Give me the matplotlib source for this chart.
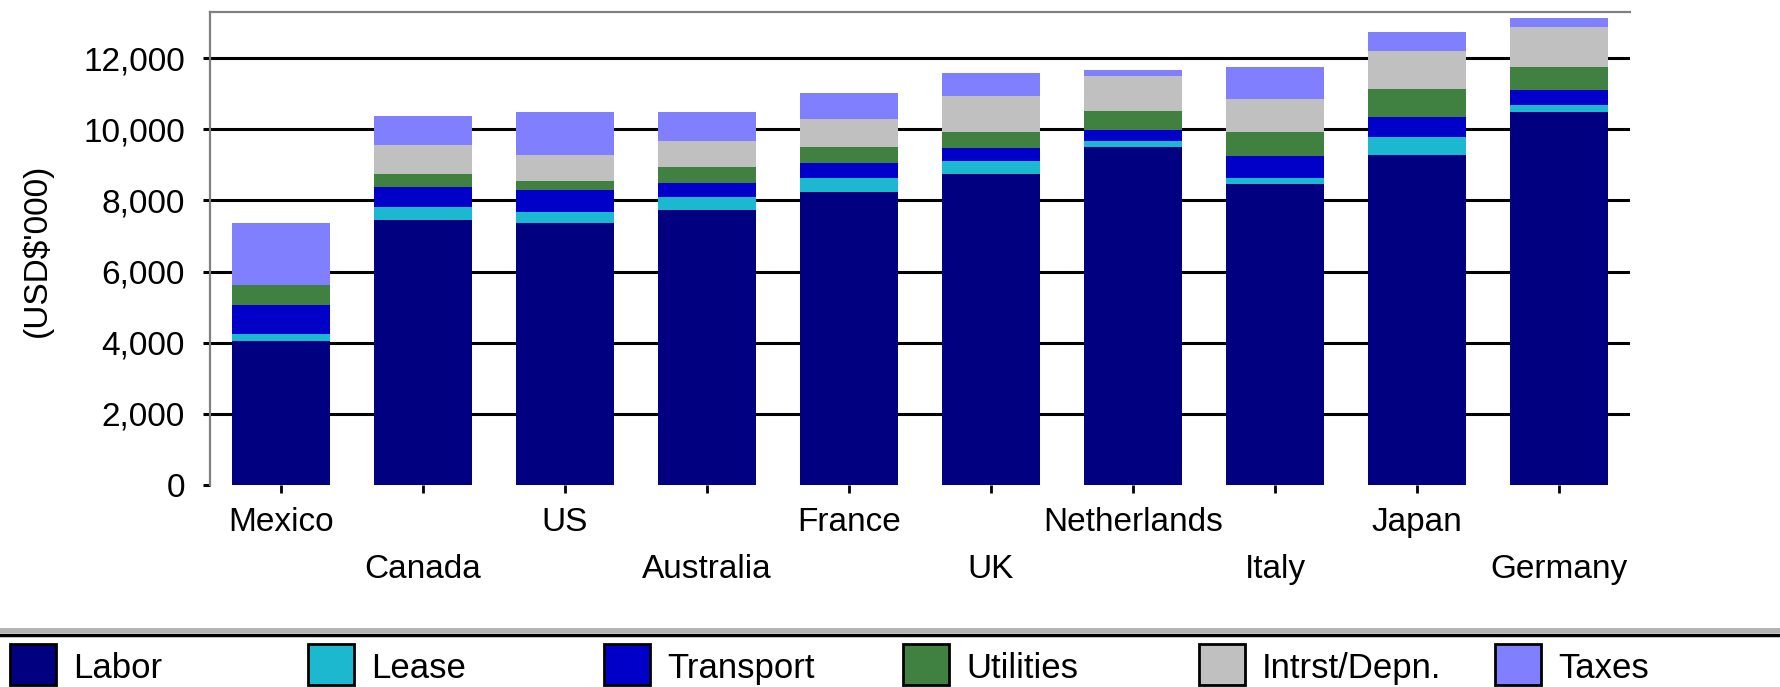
import matplotlib
matplotlib.use("Agg")
import matplotlib.pyplot as plt
import numpy as np
from matplotlib.patches import Rectangle
from matplotlib.lines import Line2D
from matplotlib.ticker import FuncFormatter

plt.rcParams['font.family'] = ['Liberation Sans', 'DejaVu Sans']

countries = ["Mexico", "Canada", "US", "Australia", "France", "UK",
             "Netherlands", "Italy", "Japan", "Germany"]
series_names = ["Labor", "Lease", "Transport", "Utilities", "Intrst/Depn.", "Taxes"]
labor     = [4040, 7460, 7380, 7740, 8250, 8750, 9500, 8470, 9280, 10500]
lease     = [215,  370,  290,  370,  395,  365,  160,  160,  500,  190]
transport = [815,  560,  610,  380,  405,  355,  330,  610,  580,  420]
utilities = [560,  360,  270,  440,  440,  465,  515,  685,  780,  655]
intrst    = [0,    815,  730,  730,  805,  1005, 985,  935,  1075, 1105]
taxes     = [1735, 815,  1215, 825,  720,  655,  190,  890,  535,  255]
y_ticks = [0, 2000, 4000, 6000, 8000, 10000, 12000]

series = [labor, lease, transport, utilities, intrst, taxes]
colors = ["#000080", "#1CB8D0", "#0000C8", "#408040", "#C0C0C0", "#8080FF"]

W, H = 1780, 687
fig = plt.figure(figsize=(W / 100, H / 100), dpi=100)
ax = fig.add_axes([210 / W, 1 - 485 / H, (1630 - 210) / W, (485 - 12.3) / H])

x = np.arange(len(countries))
bottom = np.zeros(len(countries))
for vals, col in zip(series, colors):
    v = np.array(vals, dtype=float)
    ax.bar(x, v, bottom=bottom, width=0.69, color=col, edgecolor='none', zorder=3)
    bottom += v

# grid lines (not at zero)
for yt in y_ticks[1:]:
    ax.axhline(yt, color='black', lw=2.2, zorder=1)

ax.set_xlim(-0.5, len(countries) - 0.5)
ax.set_ylim(0, 13290)
ax.set_yticks(y_ticks)
ax.yaxis.set_major_formatter(FuncFormatter(lambda v, p: f"{int(v):,}"))
ax.tick_params(axis='y', length=5, width=2.2, color='black', pad=13, labelsize=24)

ax.set_xticks(x[::2])
ax.set_xticklabels(countries[::2])
ax.set_xticks(x[1::2], minor=True)
ax.set_xticklabels(countries[1::2], minor=True)
ax.tick_params(axis='x', which='major', length=6, width=2, color='black', pad=10, labelsize=24)
ax.tick_params(axis='x', which='minor', length=6, width=2, color='black', pad=44, labelsize=24)

for s in ['right', 'bottom']:
    ax.spines[s].set_visible(False)
for s in ['left', 'top']:
    ax.spines[s].set_color('#808080')
    ax.spines[s].set_linewidth(1.6)

fig.text(37 / W, 1 - 250 / H, "(USD$'000)", rotation=90, ha='center', va='center', fontsize=24)

# legend separator
fig.add_artist(Line2D([0, 1], [1 - 629.5 / H] * 2, transform=fig.transFigure, color='#B4B4B4', lw=3.6))
fig.add_artist(Line2D([0, 1], [1 - 635 / H] * 2, transform=fig.transFigure, color='black', lw=2.5))

leg_x = [10, 308, 604, 903, 1199, 1495]
for lx, name, col in zip(leg_x, series_names, colors):
    fig.add_artist(Rectangle((lx / W, 1 - 685 / H), 46 / W, (685 - 644) / H,
                             transform=fig.transFigure, facecolor=col,
                             edgecolor='black', lw=2))
    fig.text((lx + 63) / W, 1 - 678 / H, name, ha='left', va='baseline', fontsize=25)

fig.savefig("out.png", dpi=100, facecolor='white')
